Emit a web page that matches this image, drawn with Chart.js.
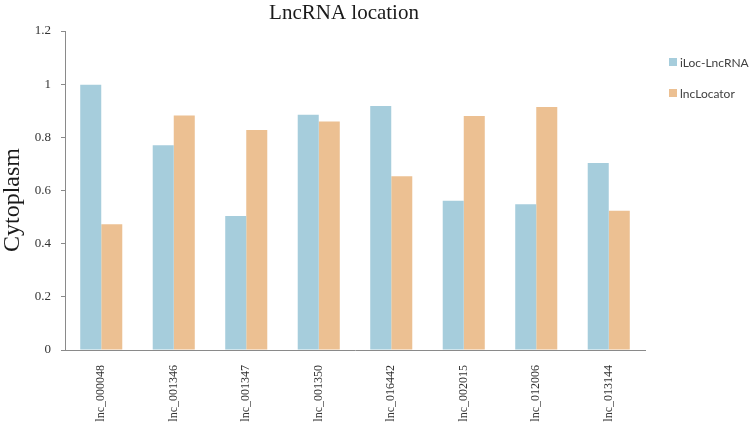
<!DOCTYPE html>
<html>
<head>
<meta charset="utf-8">
<script src="https://cdn.jsdelivr.net/npm/chart.js@4/dist/chart.umd.min.js"></script>
<style>
  html, body { margin: 0; padding: 0; background: #ffffff; }
  #wrap { width: 752px; height: 422px; position: relative; }
</style>
</head>
<body>
<div id="wrap"><canvas id="c" width="752" height="422"></canvas></div>
<script>
// ---- data ----
const categories = ["lnc_000048", "lnc_001346", "lnc_001347", "lnc_001350", "lnc_016442", "lnc_002015", "lnc_012006", "lnc_013144"];
const iLocValues = [0.998, 0.770, 0.504, 0.885, 0.918, 0.561, 0.548, 0.703];
const lncLocatorValues = [0.473, 0.882, 0.828, 0.860, 0.654, 0.880, 0.914, 0.524];
const seriesNames = ["iLoc-LncRNA", "lncLocator"];
const yTickValues = [0, 0.2, 0.4, 0.6, 0.8, 1, 1.2];
const yTickLabels = ["0", "0.2", "0.4", "0.6", "0.8", "1", "1.2"];
const chartTitle = "LncRNA location";
const yAxisTitle = "Cytoplasm";

const COLORS = ["#A6CDDC", "#ECC092"];
const SERIF = '"Liberation Serif", "Times New Roman", serif';

const decorPlugin = {
  id: 'decor',
  afterDraw(chart) {
    const ctx = chart.ctx;
    ctx.save();
    // title
    ctx.fillStyle = '#1a1a1a';
    ctx.font = '21px ' + SERIF;
    ctx.textAlign = 'center';
    ctx.textBaseline = 'alphabetic';
    ctx.fillText(chartTitle, 344, 19);
    // y axis title
    ctx.save();
    ctx.translate(19, 200);
    ctx.rotate(-Math.PI / 2);
    ctx.font = '24px ' + SERIF;
    ctx.textAlign = 'center';
    ctx.textBaseline = 'alphabetic';
    ctx.fillText(yAxisTitle, 0, 0);
    ctx.restore();
    // legend
    ctx.font = '12px Lato, "Liberation Sans", sans-serif';
    ctx.textAlign = 'left';
    ctx.textBaseline = 'alphabetic';
    chart.data.datasets.forEach((ds, i) => {
      const y = 58 + i * 31;
      ctx.fillStyle = ds.backgroundColor;
      ctx.fillRect(669, y, 8, 8);
      ctx.fillStyle = '#404040';
      ctx.fillText(ds.label, 680, y + 9);
    });
    ctx.restore();
  }
};

new Chart(document.getElementById('c'), {
  type: 'bar',
  data: {
    labels: categories,
    datasets: [
      { label: seriesNames[0], data: iLocValues, backgroundColor: COLORS[0] },
      { label: seriesNames[1], data: lncLocatorValues, backgroundColor: COLORS[1] }
    ]
  },
  options: {
    responsive: false,
    animation: false,
    devicePixelRatio: 1,
    layout: { padding: { top: 31, right: 107, bottom: 0, left: 0 } },
    datasets: { bar: { categoryPercentage: 0.58, barPercentage: 1.0 } },
    plugins: {
      legend: { display: false },
      title: { display: false },
      tooltip: { enabled: false }
    },
    scales: {
      x: {
        grid: { display: false, drawTicks: false },
        border: { display: true, color: '#8a8a8a', width: 1 },
        ticks: {
          autoSkip: false,
          minRotation: 90,
          maxRotation: 90,
          padding: 15,
          color: '#333333',
          font: { family: SERIF, size: 12 }
        },
        afterFit(scale) { scale.height = 72; }
      },
      y: {
        min: 0,
        max: 1.2,
        grid: { display: true, drawOnChartArea: false, drawTicks: true, tickLength: 4, tickColor: '#8a8a8a' },
        border: { display: true, color: '#8a8a8a', width: 1 },
        afterBuildTicks(scale) { scale.ticks = yTickValues.map(v => ({ value: v })); },
        ticks: {
          padding: 10,
          color: '#333333',
          font: { family: SERIF, size: 13 },
          callback(value) {
            const i = yTickValues.findIndex(v => Math.abs(v - value) < 1e-9);
            return i >= 0 ? yTickLabels[i] : '';
          }
        },
        afterFit(scale) { scale.width = 65; }
      }
    }
  },
  plugins: [decorPlugin]
});
</script>
</body>
</html>
